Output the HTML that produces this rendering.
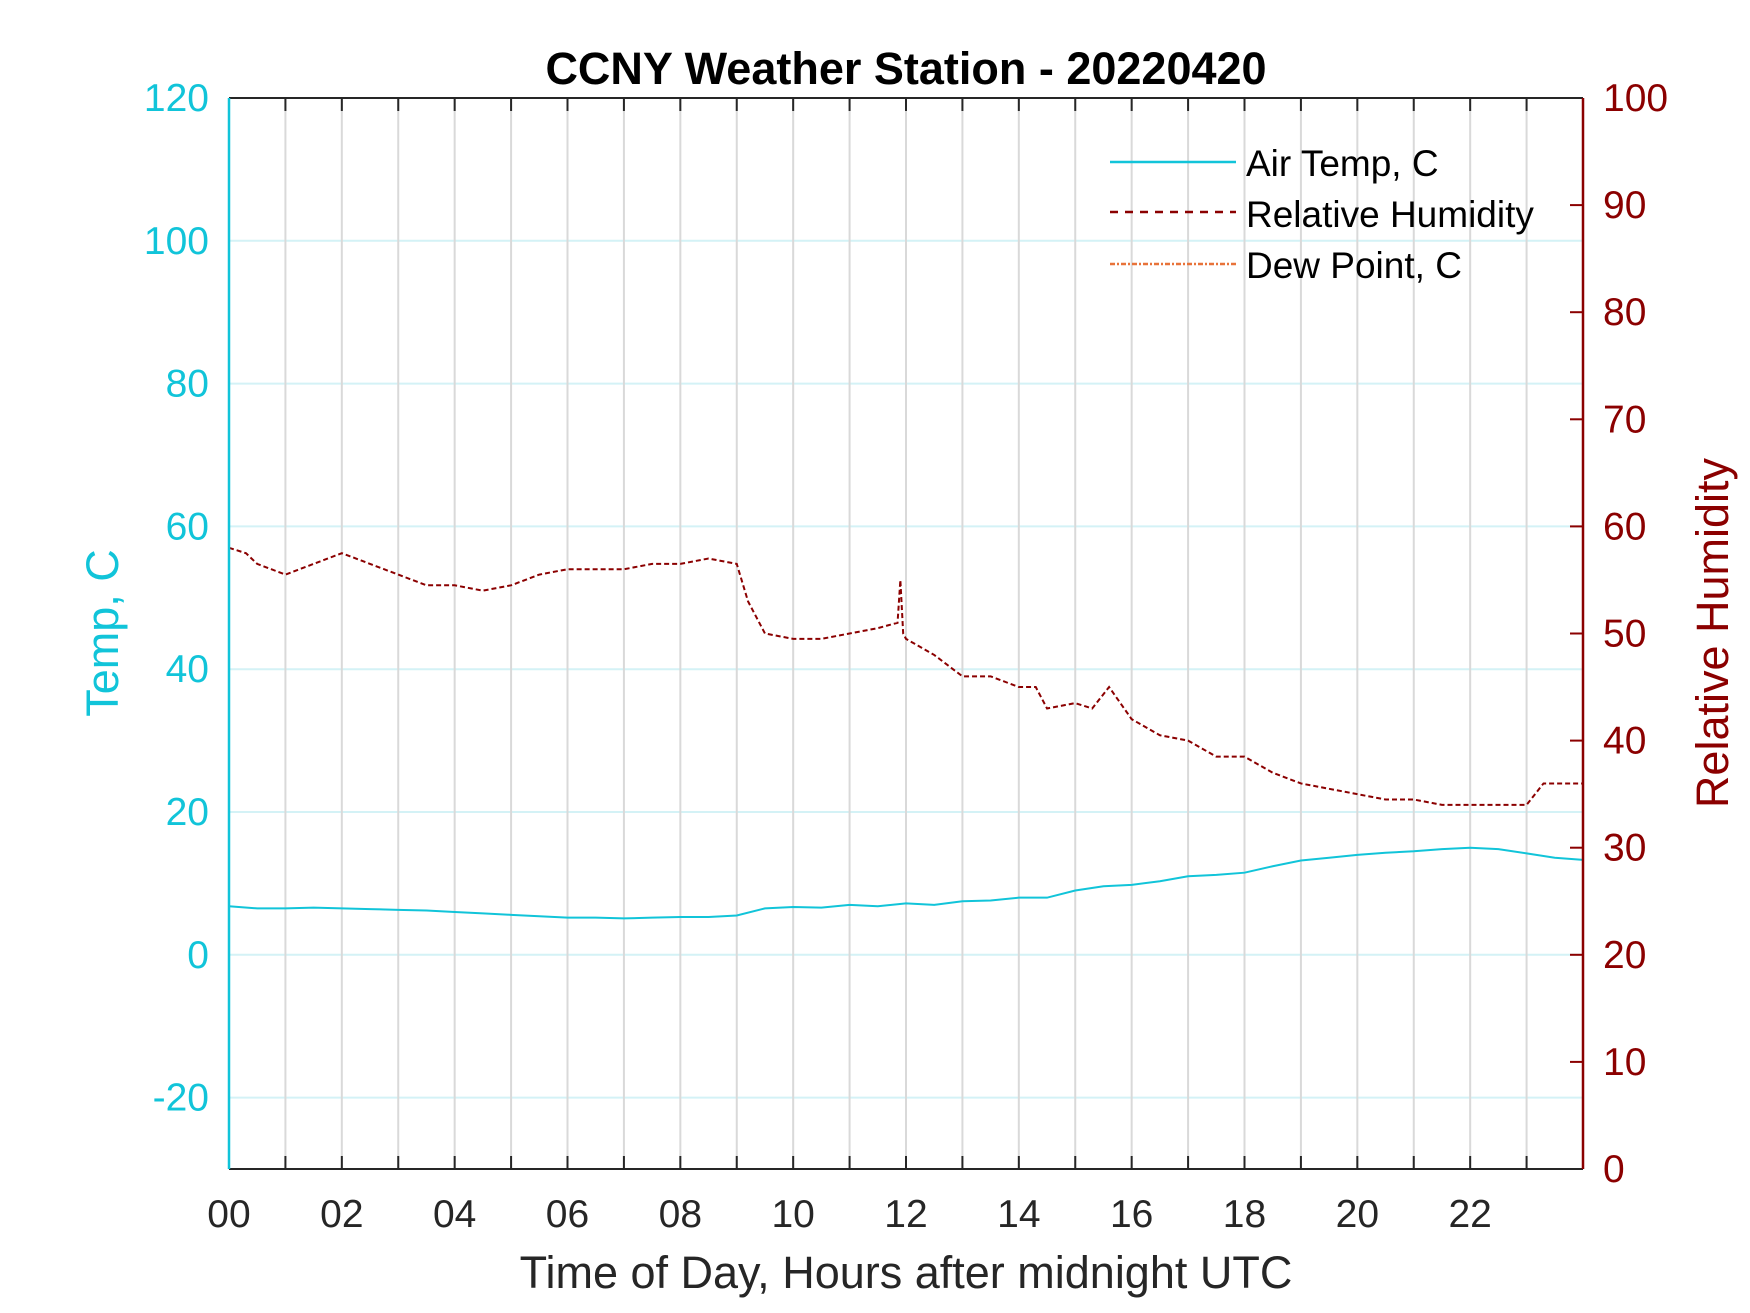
<!DOCTYPE html>
<html><head><meta charset="utf-8">
<style>
html,body{margin:0;padding:0;background:#fff;}
svg{display:block;font-family:"Liberation Sans",Arial,sans-serif;}
</style></head>
<body>
<svg id="chart" width="1750" height="1313" viewBox="0 0 1750 1313" xmlns="http://www.w3.org/2000/svg">
<rect x="0" y="0" width="1750" height="1313" fill="#fff"/>
<g id="grid"></g>
<g id="series"></g>
<g id="axes"></g>
<text x="906" y="84" text-anchor="middle" font-size="45" font-weight="bold" fill="#000">CCNY Weather Station - 20220420</text>
<text x="906" y="1288" text-anchor="middle" font-size="45" fill="#262626">Time of Day, Hours after midnight UTC</text>
<text transform="translate(118,633) rotate(-90)" text-anchor="middle" font-size="45" fill="#11c4d9">Temp, C</text>
<text transform="translate(1728,633) rotate(-90)" text-anchor="middle" font-size="45" fill="#8b0000">Relative Humidity</text>
<g>
<line x1="1110" y1="162" x2="1236" y2="162" stroke="#11c4d9" stroke-width="2.5"/>
<text x="1246" y="176" font-size="37" fill="#000">Air Temp, C</text>
<line x1="1110" y1="212" x2="1236" y2="212" stroke="#8b0000" stroke-width="2.5" stroke-dasharray="8,7"/>
<text x="1246" y="227" font-size="37" fill="#000">Relative Humidity</text>
<line x1="1110" y1="264" x2="1236" y2="264" stroke="#e8733a" stroke-width="2.5" stroke-dasharray="5,2,2,2"/>
<text x="1246" y="278" font-size="37" fill="#000">Dew Point, C</text>
</g>
</svg>
<script>
const tempHours = [0,0.5,1,1.5,2,2.5,3,3.5,4,4.5,5,5.5,6,6.5,7,7.5,8,8.5,9,9.5,10,10.5,11,11.5,12,12.5,13,13.5,14,14.5,15,15.5,16,16.5,17,17.5,18,18.5,19,19.5,20,20.5,21,21.5,22,22.5,23,23.5,24];
const tempValues = [6.8,6.5,6.5,6.6,6.5,6.4,6.3,6.2,6.0,5.8,5.6,5.4,5.2,5.2,5.1,5.2,5.3,5.3,5.5,6.5,6.7,6.6,7.0,6.8,7.2,7.0,7.5,7.6,8.0,8.0,9.0,9.6,9.8,10.3,11.0,11.2,11.5,12.4,13.2,13.6,14.0,14.3,14.5,14.8,15.0,14.8,14.2,13.6,13.3];
const rhHours = [0,0.3,0.5,1,1.5,2,2.5,3,3.5,4,4.5,5,5.5,6,6.5,7,7.5,8,8.5,9,9.2,9.5,10,10.5,11,11.5,11.85,11.9,11.95,12,12.5,13,13.5,14,14.3,14.5,15,15.3,15.6,16,16.5,17,17.5,18,18.5,19,19.5,20,20.5,21,21.5,22,22.5,23,23.3,24];
const rhValues = [58,57.5,56.5,55.5,56.5,57.5,56.5,55.5,54.5,54.5,54,54.5,55.5,56,56,56,56.5,56.5,57,56.5,53,50,49.5,49.5,50,50.5,51,55,50,49.5,48,46,46,45,45,43,43.5,43,45,42,40.5,40,38.5,38.5,37,36,35.5,35,34.5,34.5,34,34,34,34,36,36];
const xTickLabels = ["00","02","04","06","08","10","12","14","16","18","20","22"];
const tempTicks = [-20,0,20,40,60,80,100,120];
const rhTicks = [0,10,20,30,40,50,60,70,80,90,100];

const L=229,R=1583,T=98,B=1169;
const X=h=>L+(h/24)*(R-L);
const YT=v=>B-(v+30)/150*(B-T);
const YR=v=>B-v/100*(B-T);
const NS="http://www.w3.org/2000/svg";
function mk(tag,attrs,parent){const e=document.createElementNS(NS,tag);for(const k in attrs)e.setAttribute(k,attrs[k]);parent.appendChild(e);return e;}
const grid=document.getElementById('grid'),axes=document.getElementById('axes'),series=document.getElementById('series');

tempTicks.forEach(v=>{
  const g=mk('line',{x1:L,x2:R,y1:YT(v),y2:YT(v),stroke:'#d4f2f6','stroke-width':2},grid);
  
  
  const t=mk('text',{x:L-20,y:YT(v)+13,'text-anchor':'end','font-size':39,fill:'#11c4d9'},axes);
  t.textContent=v;
  
  
});
for(let h=1;h<24;h++){
  const g=mk('line',{x1:X(h),x2:X(h),y1:T,y2:B,stroke:'#d9d9d9','stroke-width':2},grid);
  
  
  const tk=mk('line',{x1:X(h),x2:X(h),y1:T,y2:T+13,stroke:'#262626','stroke-width':2},axes);
  
  
  const tb=mk('line',{x1:X(h),x2:X(h),y1:B,y2:B-13,stroke:'#262626','stroke-width':2},axes);
  
  
}
xTickLabels.forEach((lab,i)=>{
  const t=mk('text',{x:X(i*2),y:1227,'text-anchor':'middle','font-size':39,fill:'#262626'},axes);
  t.textContent=lab;
  
  
});
rhTicks.forEach(v=>{
  const tk=mk('line',{x1:R-13,x2:R,y1:YR(v),y2:YR(v),stroke:'#8b0000','stroke-width':2},axes);
  
  
  const t=mk('text',{x:R+20,y:YR(v)+13,'font-size':39,fill:'#8b0000'},axes);
  t.textContent=v;
  
  
});
const a1=mk('line',{x1:L,x2:R,y1:T,y2:T,stroke:'#262626','stroke-width':2},axes);


const a2=mk('line',{x1:L,x2:R,y1:B,y2:B,stroke:'#262626','stroke-width':2},axes);


const a3=mk('line',{x1:L,x2:L,y1:T,y2:B,stroke:'#11c4d9','stroke-width':2.5},axes);


const a4=mk('line',{x1:R,x2:R,y1:T,y2:B,stroke:'#8b0000','stroke-width':2.5},axes);



const tp=mk('polyline',{points:tempHours.map((h,i)=>X(h)+','+YT(tempValues[i])).join(' '),fill:'none',stroke:'#11c4d9','stroke-width':2},series);


const rp=mk('polyline',{points:rhHours.map((h,i)=>X(h)+','+YR(rhValues[i])).join(' '),fill:'none',stroke:'#8b0000','stroke-width':2,'stroke-dasharray':'5,3'},series);


</script>
</body></html>
